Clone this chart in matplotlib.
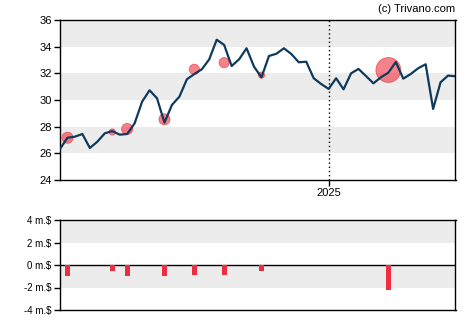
import pandas as pd
import matplotlib.pyplot as plt

# Weekly closing prices
prices = [26.33, 27.17, 27.25, 27.45, 26.40, 26.87, 27.50, 27.67, 27.40, 27.45,
          28.25, 29.87, 30.73, 30.13, 28.30, 29.63, 30.25, 31.55, 31.95, 32.30,
          33.05, 34.52, 34.13, 32.55, 33.05, 33.88, 32.50, 31.70, 33.30, 33.47,
          33.88, 33.45, 32.83, 32.87, 31.63, 31.20, 30.83, 31.63, 30.80, 32.00,
          32.33, 31.80, 31.25, 31.70, 32.05, 32.85, 31.60, 31.95, 32.38, 32.68,
          29.33, 31.33, 31.83, 31.78]
dates = pd.date_range("2024-04-24", periods=len(prices), freq="7D")

# Insider sales: week index, trade price, volume in million $
trade_idx = [1, 7, 9, 14, 18, 22, 27, 44]
trade_price = [27.17, 27.60, 27.83, 28.55, 32.30, 32.80, 31.87, 32.25]
trade_amount = [-1.00, -0.56, -1.00, -1.00, -0.92, -0.92, -0.56, -2.24]

price_ticks = [24, 26, 28, 30, 32, 34, 36]
vol_ticks = [-4, -2, 0, 2, 4]
vol_labels = ["-4 m.$", "-2 m.$", "0 m.$", "2 m.$", "4 m.$"]

plt.rcParams['font.family'] = ['Liberation Sans', 'DejaVu Sans']

fig = plt.figure(figsize=(4.7, 3.25), dpi=100)
ax = fig.add_axes([60/470, 1 - 180/325, 395.5/470, 160/325])
ax2 = fig.add_axes([60/470, 1 - 310/325, 395.5/470, 90/325])

band = '#ececec'
for lo in [26, 30, 34]:
    ax.axhspan(lo, lo + 2, color=band, lw=0, zorder=0)
ax.axvline(pd.Timestamp("2025-01-01"), color='black', ls=(0, (1, 2)), lw=1, zorder=1)
ax.plot(dates, prices, color='#0f3a5c', lw=1.6, zorder=3)

# circle area grows with the size of the trade
trade_dates = dates[trade_idx]
sizes = [(abs(a) * 8.0) ** 2 for a in trade_amount]
ax.scatter(trade_dates, trade_price, s=sizes,
           color='#f0303f', alpha=0.6, edgecolors='#e8202f', linewidths=0.6, zorder=2)

ax.set_xlim(dates[0], dates[-1])
ax.set_ylim(24, 36)
ax.set_yticks(price_ticks)
ax.set_xticks([pd.Timestamp("2025-01-01")])
ax.set_xticklabels(["2025"])
ax.tick_params(labelsize=8, length=4, width=1, colors='black', pad=2)
for s in ax.spines.values():
    s.set_linewidth(1)

ax.text(1.0, 1.04, "(c) Trivano.com", transform=ax.transAxes, ha='right', va='bottom', fontsize=8)

# Volume panel
ax2.axhspan(2, 4, color=band, lw=0, zorder=0)
ax2.axhspan(-2, 0, color=band, lw=0, zorder=0)
ax2.axhline(0, color='black', lw=1, zorder=2)
ax2.bar(trade_dates, trade_amount, width=4.4, color='#ee2e40', zorder=3)
ax2.set_xlim(dates[0], dates[-1])
ax2.set_ylim(-4, 4)
ax2.set_yticks(vol_ticks)
ax2.set_yticklabels(vol_labels)
ax2.set_xticks([])
ax2.tick_params(labelsize=7, length=4, width=1, pad=2)
for s in ax2.spines.values():
    s.set_linewidth(1)

fig.savefig("out.png", dpi=100)
